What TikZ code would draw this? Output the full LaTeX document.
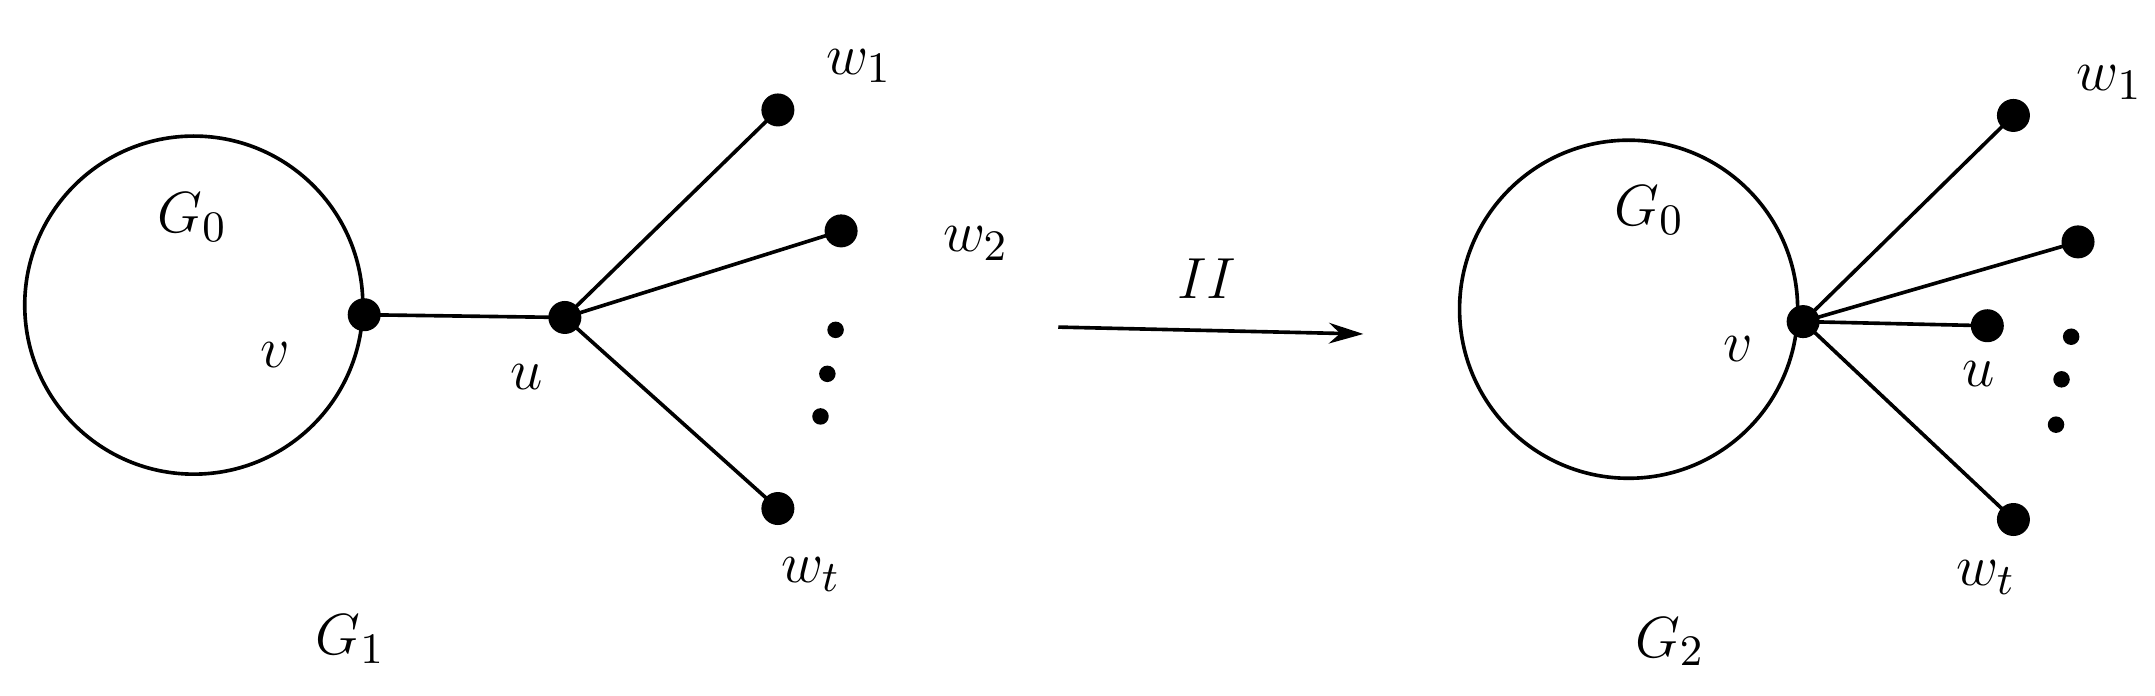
\documentclass[tikz,border=0pt]{standalone}
\usetikzlibrary{arrows.meta}
\begin{document}
\begin{tikzpicture}[x=0.01cm,y=-0.01cm,line width=0.75pt,
  vert/.style={circle,fill=black,inner sep=0pt,minimum size=0.24cm},
  sdot/.style={circle,fill=black,inner sep=0pt,minimum size=0.12cm},
  lbl/.style={font=\fontsize{12.5}{15}\selectfont}]
\useasboundingbox (0,0) rectangle (1568,506);
% left
\draw (141,222) circle[radius=123];
\node[vert] (v1) at (265,229) {};
\node[vert] (u1) at (411,231) {};
\node[vert] (a1) at (566,80) {};
\node[vert] (b1) at (612,168) {};
\node[vert] (t1) at (566,370) {};
\node[sdot] (d1) at (608,240) {};
\node[sdot] (d2) at (602,272) {};
\node[sdot] (d3) at (597,303) {};
\draw (v1.center)--(u1.center);
\draw (u1.center)--(a1.center);
\draw (u1.center)--(b1.center);
\draw (u1.center)--(t1.center);
\node[lbl] (g0a) at (140,158) {$G_0$};
\node[lbl] (lv1) at (200,258) {$v$};
\node[lbl] (lu1) at (383,274) {$u$};
\node[lbl] (lw1) at (625,48) {$w_1$};
\node[lbl] (lw2) at (710,177) {$w_2$};
\node[lbl] (lwt) at (590,418) {$w_t$};
\node[lbl] (g1) at (255,465) {$G_1$};
% arrow
\coordinate (as) at (770,238);
\coordinate (ae) at (992,243);
\draw[-{Stealth[length=0.25cm,width=0.15cm]}] (as)--(ae);
\node[lbl] (ii) at (878,203) {$II$};
% right
\draw (1185,225) circle[radius=123];
\node[vert] (v2) at (1312,234) {};
\node[vert] (a2) at (1465,84) {};
\node[vert] (b2) at (1512,176) {};
\node[vert] (u2) at (1446,237) {};
\node[vert] (t2) at (1465,378) {};
\node[sdot] (e1) at (1507,245) {};
\node[sdot] (e2) at (1500,276) {};
\node[sdot] (e3) at (1496,309) {};
\draw (v2.center)--(a2.center);
\draw (v2.center)--(b2.center);
\draw (v2.center)--(u2.center);
\draw (v2.center)--(t2.center);
\node[lbl] (g0b) at (1200,153) {$G_0$};
\node[lbl] (lv2) at (1265,254) {$v$};
\node[lbl] (lu2) at (1440,272) {$u$};
\node[lbl] (lw1b) at (1535,60) {$w_1$};
\node[lbl] (lwtb) at (1445,420) {$w_t$};
\node[lbl] (g2) at (1215,467) {$G_2$};
\end{tikzpicture}
\end{document}
